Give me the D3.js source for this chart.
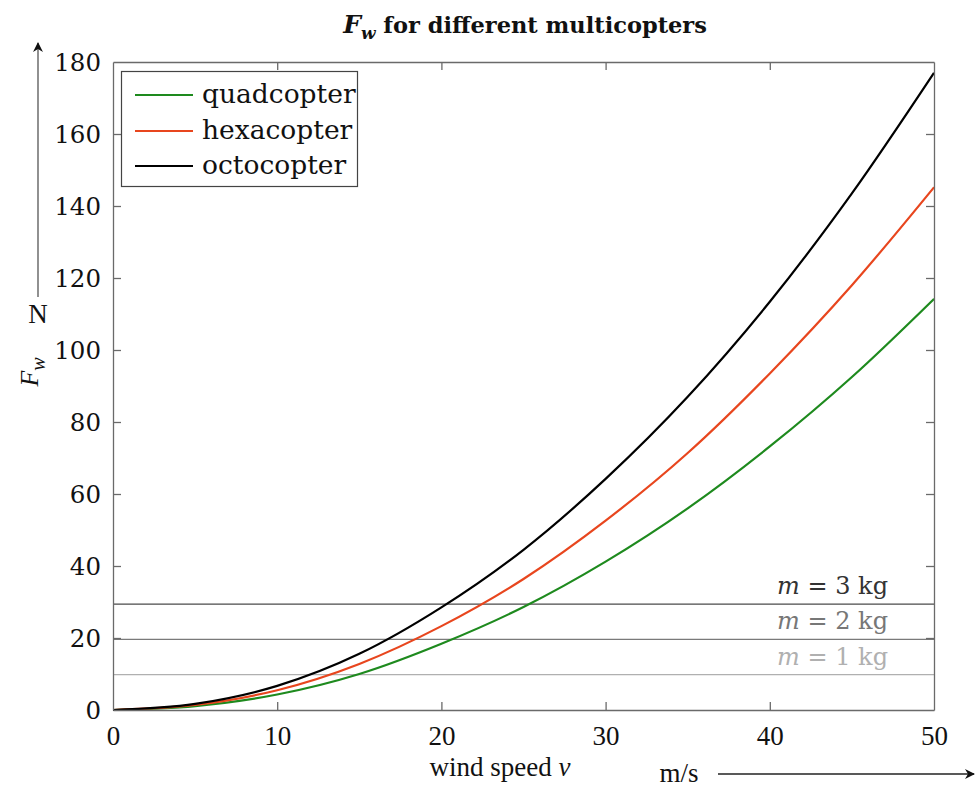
<!DOCTYPE html>
<html>
<head>
<meta charset="utf-8">
<script src="https://cdn.jsdelivr.net/npm/d3@7"></script>
<style>
  html, body { margin: 0; padding: 0; background: #fff; }
  svg { display: block; font-family: "DejaVu Serif", "Liberation Serif", serif; }
</style>
</head>
<body>
<svg id="chart" width="976" height="790"></svg>
<script>
// ---- data ----
const windSpeed = [0, 5, 10, 15, 20, 25, 30, 35, 40, 45, 50];
const quadcopter = [0, 1.1, 4.3, 10.0, 18.4, 28.6, 41.2, 56.0, 73.2, 92.5, 114.2];
const hexacopter = [0, 1.4, 5.5, 12.8, 23.3, 36.4, 52.6, 71.4, 93.5, 118.0, 145.2];
const octocopter = [0, 1.7, 6.7, 15.6, 28.5, 44.5, 64.2, 87.0, 113.4, 143.5, 177.0];
const seriesNames = ["quadcopter", "hexacopter", "octocopter"];
const seriesColors = ["#1e8a1e", "#e8461e", "#000000"];
const massLabels = ["1", "2", "3"];
const massForces = [9.81, 19.62, 29.43];
const massColors = ["#b0b0b0", "#7a7a7a", "#4a4a4a"];
const massTextColors = ["#b0b0b0", "#777777", "#333333"];
const xTicks = [0, 10, 20, 30, 40, 50];
const yTicks = [0, 20, 40, 60, 80, 100, 120, 140, 160, 180];

const svg = d3.select("#chart");
const pLeft = 113, pRight = 934, pTop = 62, pBottom = 710;
const x = d3.scaleLinear().domain([0, 50]).range([pLeft, pRight]);
const y = d3.scaleLinear().domain([0, 180]).range([pBottom, pTop]);

const axisColor = "#6a6a6a";
const tickLen = 8;
const serif2 = "Liberation Serif, serif";

// mass reference lines
massForces.forEach((f, i) => {
  svg.append("line")
    .attr("x1", pLeft).attr("x2", pRight)
    .attr("y1", y(f)).attr("y2", y(f))
    .attr("stroke", massColors[i]).attr("stroke-width", 1.3);
});

// curves
const allSeries = [quadcopter, hexacopter, octocopter];
const line = d3.line()
  .x((d, i) => x(windSpeed[i]))
  .y(d => y(d))
  .curve(d3.curveMonotoneX);
allSeries.forEach((s, i) => {
  svg.append("path")
    .datum(s)
    .attr("d", line)
    .attr("fill", "none")
    .attr("stroke", seriesColors[i])
    .attr("stroke-width", 2.2);
});

// axes (inward ticks, mirrored)
const gx = svg.append("g").attr("transform", `translate(0,${pBottom})`)
  .call(d3.axisBottom(x).tickValues(xTicks).tickSizeInner(-tickLen).tickSizeOuter(0).tickPadding(16));
const gxt = svg.append("g").attr("transform", `translate(0,${pTop})`)
  .call(d3.axisTop(x).tickValues(xTicks).tickSizeInner(-tickLen).tickSizeOuter(0).tickFormat(""));
const gy = svg.append("g").attr("transform", `translate(${pLeft},0)`)
  .call(d3.axisLeft(y).tickValues(yTicks).tickSizeInner(-tickLen).tickSizeOuter(0).tickPadding(12));
const gyr = svg.append("g").attr("transform", `translate(${pRight},0)`)
  .call(d3.axisRight(y).tickValues(yTicks).tickSizeInner(-tickLen).tickSizeOuter(0).tickFormat(""));

[gx, gxt, gy, gyr].forEach(g => {
  g.select(".domain").attr("stroke", axisColor).attr("stroke-width", 1.3);
  g.selectAll(".tick line").attr("stroke", axisColor).attr("stroke-width", 1.3);
  g.selectAll(".tick text").attr("fill", "#111");
});
gy.selectAll(".tick text").attr("font-size", 24.5).attr("font-family", "DejaVu Serif, serif").attr("dy", "0.36em");
gx.selectAll(".tick text").attr("font-size", 27).attr("font-family", serif2);
gx.selectAll(".tick").filter(d => d === 0 || d === 50).select("line").remove();
gxt.selectAll(".tick").filter(d => d === 0 || d === 50).select("line").remove();
gy.selectAll(".tick").filter(d => d === 0 || d === 180).select("line").remove();
gyr.selectAll(".tick").filter(d => d === 0 || d === 180).select("line").remove();

// legend
const lg = svg.append("g");
lg.append("rect").attr("x", 121.5).attr("y", 71.5).attr("width", 236).attr("height", 115)
  .attr("fill", "#fff").attr("stroke", "#444").attr("stroke-width", 1.2);
const legendRows = [95, 131, 166];
seriesNames.forEach((n, i) => {
  lg.append("line").attr("x1", 135).attr("x2", 193)
    .attr("y1", legendRows[i]).attr("y2", legendRows[i])
    .attr("stroke", seriesColors[i]).attr("stroke-width", 2.2);
  lg.append("text").attr("x", 202).attr("y", legendRows[i] + 8)
    .attr("font-size", 26.5).attr("fill", "#111").text(n);
});

// mass labels
massLabels.forEach((m, i) => {
  const t = svg.append("text").attr("x", 888).attr("y", y(massForces[i]) - 10)
    .attr("text-anchor", "end").attr("font-size", 24).attr("fill", massTextColors[i]);
  t.append("tspan").attr("font-style", "italic").text("m");
  t.append("tspan").text(` = ${m} kg`);
});

// title
const title = svg.append("text").attr("x", 525).attr("y", 33)
  .attr("text-anchor", "middle").attr("font-size", 22.5).attr("font-weight", "bold").attr("fill", "#111");
title.append("tspan").attr("font-style", "italic").attr("font-size", 25).text("F");
title.append("tspan").attr("font-style", "italic").attr("font-size", 17).attr("dy", 6).text("w");
title.append("tspan").attr("dy", -6).text(" for different multicopters");

// y axis label with arrow
svg.append("defs").append("marker").attr("id", "arrow")
  .attr("viewBox", "0 0 10 10").attr("refX", 9).attr("refY", 5)
  .attr("markerWidth", 10).attr("markerHeight", 10).attr("markerUnits", "userSpaceOnUse")
  .attr("orient", "auto")
  .append("path").attr("d", "M0,0 L10,5 L0,10 L3,5 Z").attr("fill", "#111");
svg.append("line").attr("x1", 38).attr("x2", 38).attr("y1", 297).attr("y2", 43)
  .attr("stroke", "#555").attr("stroke-width", 1.3).attr("marker-end", "url(#arrow)");
svg.append("text").attr("x", 38).attr("y", 323).attr("text-anchor", "middle")
  .attr("font-size", 27).attr("font-family", serif2).attr("fill", "#111").text("N");
const yl = svg.append("text").attr("transform", "translate(38,372) rotate(-90)")
  .attr("text-anchor", "middle").attr("font-size", 26).attr("font-family", serif2).attr("fill", "#111");
yl.append("tspan").attr("font-style", "italic").text("F");
yl.append("tspan").attr("font-style", "italic").attr("font-size", 20).attr("dy", 7).text("w");

// x axis label with arrow
const xl = svg.append("text").attr("x", 500).attr("y", 776).attr("text-anchor", "middle")
  .attr("font-size", 27).attr("font-family", serif2).attr("fill", "#111");
xl.append("tspan").text("wind speed ");
xl.append("tspan").attr("font-style", "italic").text("v");
svg.append("text").attr("x", 679).attr("y", 782).attr("text-anchor", "middle")
  .attr("font-size", 27).attr("font-family", serif2).attr("fill", "#111").text("m/s");
svg.append("line").attr("x1", 718).attr("x2", 974).attr("y1", 774).attr("y2", 774)
  .attr("stroke", "#222").attr("stroke-width", 1.3).attr("marker-end", "url(#arrow)");
</script>
</body>
</html>
